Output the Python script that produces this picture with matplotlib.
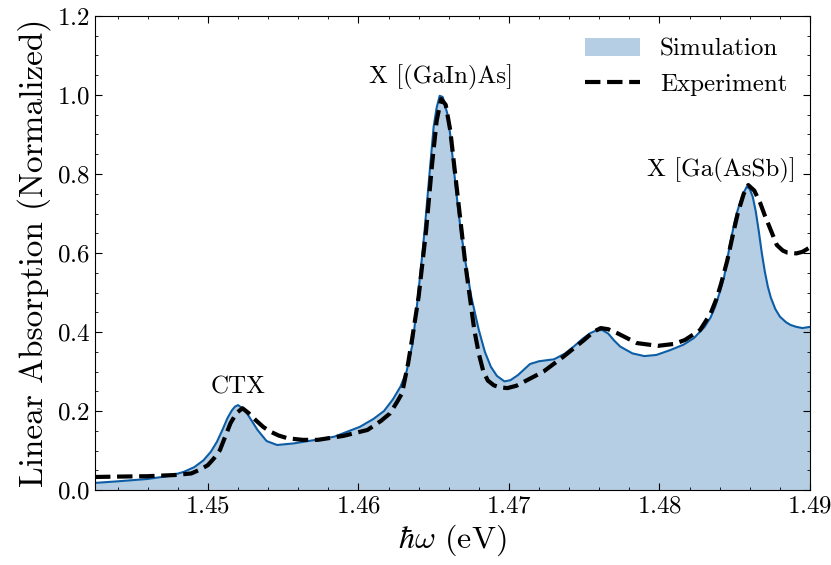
import matplotlib
matplotlib.use('Agg')
import matplotlib.pyplot as plt

plt.rcParams['font.family'] = 'cmr10'
plt.rcParams['mathtext.fontset'] = 'cm'
plt.rcParams['axes.formatter.use_mathtext'] = True

# simulation (filled) and experiment (dashed)
sim_x = [1.4425, 1.4440, 1.4460, 1.4475, 1.4484, 1.4491, 1.4497, 1.4502, 1.4506, 1.4510,
         1.4513, 1.4516, 1.4518, 1.4520, 1.4523, 1.4526, 1.4530, 1.4533, 1.4539, 1.4546,
         1.4557, 1.4570, 1.4584, 1.4601, 1.4610, 1.4617, 1.4623, 1.4628, 1.4632, 1.4636,
         1.4639, 1.4642, 1.4644, 1.4647, 1.4650, 1.4652, 1.4654, 1.4656, 1.4659, 1.4661,
         1.4663, 1.4666, 1.4668, 1.4671, 1.4675, 1.4680, 1.4684, 1.4688, 1.4692, 1.4697,
         1.4701, 1.4706, 1.4710, 1.4714, 1.4720, 1.4730, 1.4737, 1.4743, 1.4749, 1.4754,
         1.4758, 1.4762, 1.4766, 1.4770, 1.4774, 1.4782, 1.4790, 1.4798, 1.4807, 1.4816,
         1.4823, 1.4830, 1.4834, 1.4837, 1.4840, 1.4843, 1.4847, 1.4850, 1.4852, 1.4855,
         1.4858, 1.4860, 1.4862, 1.4864, 1.4866, 1.4868, 1.4870, 1.4872, 1.4874, 1.4877,
         1.4880, 1.4884, 1.4887, 1.4891, 1.4895, 1.4900]
sim_y = [0.018, 0.022, 0.028, 0.036, 0.046, 0.058, 0.075, 0.097, 0.122, 0.155,
         0.182, 0.202, 0.211, 0.215, 0.207, 0.194, 0.170, 0.152, 0.124, 0.114,
         0.118, 0.126, 0.135, 0.160, 0.180, 0.200, 0.230, 0.262, 0.300, 0.370,
         0.470, 0.580, 0.658, 0.790, 0.920, 0.968, 0.998, 0.995, 0.954, 0.900,
         0.827, 0.720, 0.658, 0.580, 0.489, 0.405, 0.350, 0.312, 0.289, 0.275,
         0.278, 0.291, 0.305, 0.319, 0.326, 0.331, 0.345, 0.363, 0.383, 0.397,
         0.404, 0.405, 0.396, 0.378, 0.363, 0.346, 0.339, 0.342, 0.354, 0.368,
         0.385, 0.413, 0.437, 0.464, 0.500, 0.540, 0.625, 0.680, 0.709, 0.745,
         0.768, 0.762, 0.742, 0.705, 0.655, 0.600, 0.553, 0.515, 0.487, 0.458,
         0.439, 0.425, 0.418, 0.413, 0.410, 0.413]

exp_x = [1.4425, 1.4440, 1.4460, 1.4478, 1.4489, 1.4495, 1.4500, 1.4504, 1.4508, 1.4512,
         1.4515, 1.4519, 1.4523, 1.4527, 1.4532, 1.4537, 1.4542, 1.4547, 1.4553, 1.4563,
         1.4573, 1.4590, 1.4606, 1.4615, 1.4621, 1.4626, 1.4629, 1.4633, 1.4636, 1.4640,
         1.4645, 1.4649, 1.4652, 1.4655, 1.4658, 1.4661, 1.4666, 1.4671, 1.4677, 1.4680,
         1.4683, 1.4686, 1.4690, 1.4694, 1.4699, 1.4705, 1.4710, 1.4723, 1.4736, 1.4750,
         1.4756, 1.4761, 1.4766, 1.4772, 1.4785, 1.4799, 1.4810, 1.4817, 1.4827, 1.4834,
         1.4838, 1.4841, 1.4845, 1.4849, 1.4852, 1.4856, 1.4859, 1.4863, 1.4867, 1.4870,
         1.4873, 1.4878, 1.4882, 1.4885, 1.4891, 1.4895, 1.4899, 1.4900]
exp_y = [0.033, 0.034, 0.035, 0.038, 0.042, 0.052, 0.063, 0.080, 0.101, 0.140,
         0.169, 0.195, 0.207, 0.195, 0.176, 0.159, 0.147, 0.138, 0.131, 0.127,
         0.127, 0.137, 0.152, 0.175, 0.194, 0.225, 0.245, 0.320, 0.390, 0.489,
         0.658, 0.827, 0.935, 0.990, 0.975, 0.911, 0.742, 0.574, 0.405, 0.345,
         0.300, 0.277, 0.265, 0.260, 0.258, 0.264, 0.274, 0.300, 0.337, 0.380,
         0.400, 0.410, 0.407, 0.397, 0.372, 0.365, 0.370, 0.380, 0.405, 0.447,
         0.485, 0.523, 0.580, 0.650, 0.700, 0.750, 0.772, 0.758, 0.726, 0.695,
         0.667, 0.620, 0.606, 0.601, 0.599, 0.603, 0.612, 0.613]

peak_labels = ['CTX', 'X [(GaIn)As]', 'X [Ga(AsSb)]']
peak_x = [1.4520, 1.4655, 1.4841]
peak_y = [0.26, 1.045, 0.81]

fig, ax = plt.subplots(figsize=(8.31, 5.65), dpi=100)
fig.subplots_adjust(left=0.1143, right=0.9747, top=0.9717, bottom=0.1327)

ax.fill_between(sim_x, sim_y, color='#0C5DA5', alpha=0.3, lw=0, label='Simulation')
ax.plot(sim_x, sim_y, color='#0C5DA5', lw=1.5)
ax.plot(exp_x, exp_y, color='black', ls='--', lw=3, label='Experiment')

for t, x, y in zip(peak_labels, peak_x, peak_y):
    ax.text(x, y, t, ha='center', va='center', fontsize=18)

ax.set_xlim(1.4425, 1.49)
ax.set_ylim(0, 1.2)
ax.set_xticks([1.45, 1.46, 1.47, 1.48, 1.49])
ax.set_xticks([1.444 + 0.002 * i for i in range(24)], minor=True)
ax.set_yticks([0.0, 0.2, 0.4, 0.6, 0.8, 1.0, 1.2])
ax.set_yticks([0.05 * i for i in range(25)], minor=True)
ax.tick_params(which='both', direction='in', top=True, right=True, labelsize=18)
ax.tick_params(which='major', length=5)
ax.tick_params(which='minor', length=2.5)

ax.set_xlabel(r'$\hbar\omega$ (eV)', fontsize=23)
ax.set_ylabel('Linear Absorption (Normalized)', fontsize=24)
ax.legend(loc='upper right', frameon=False, fontsize=18, handlelength=2.2)

plt.savefig('out.png')
